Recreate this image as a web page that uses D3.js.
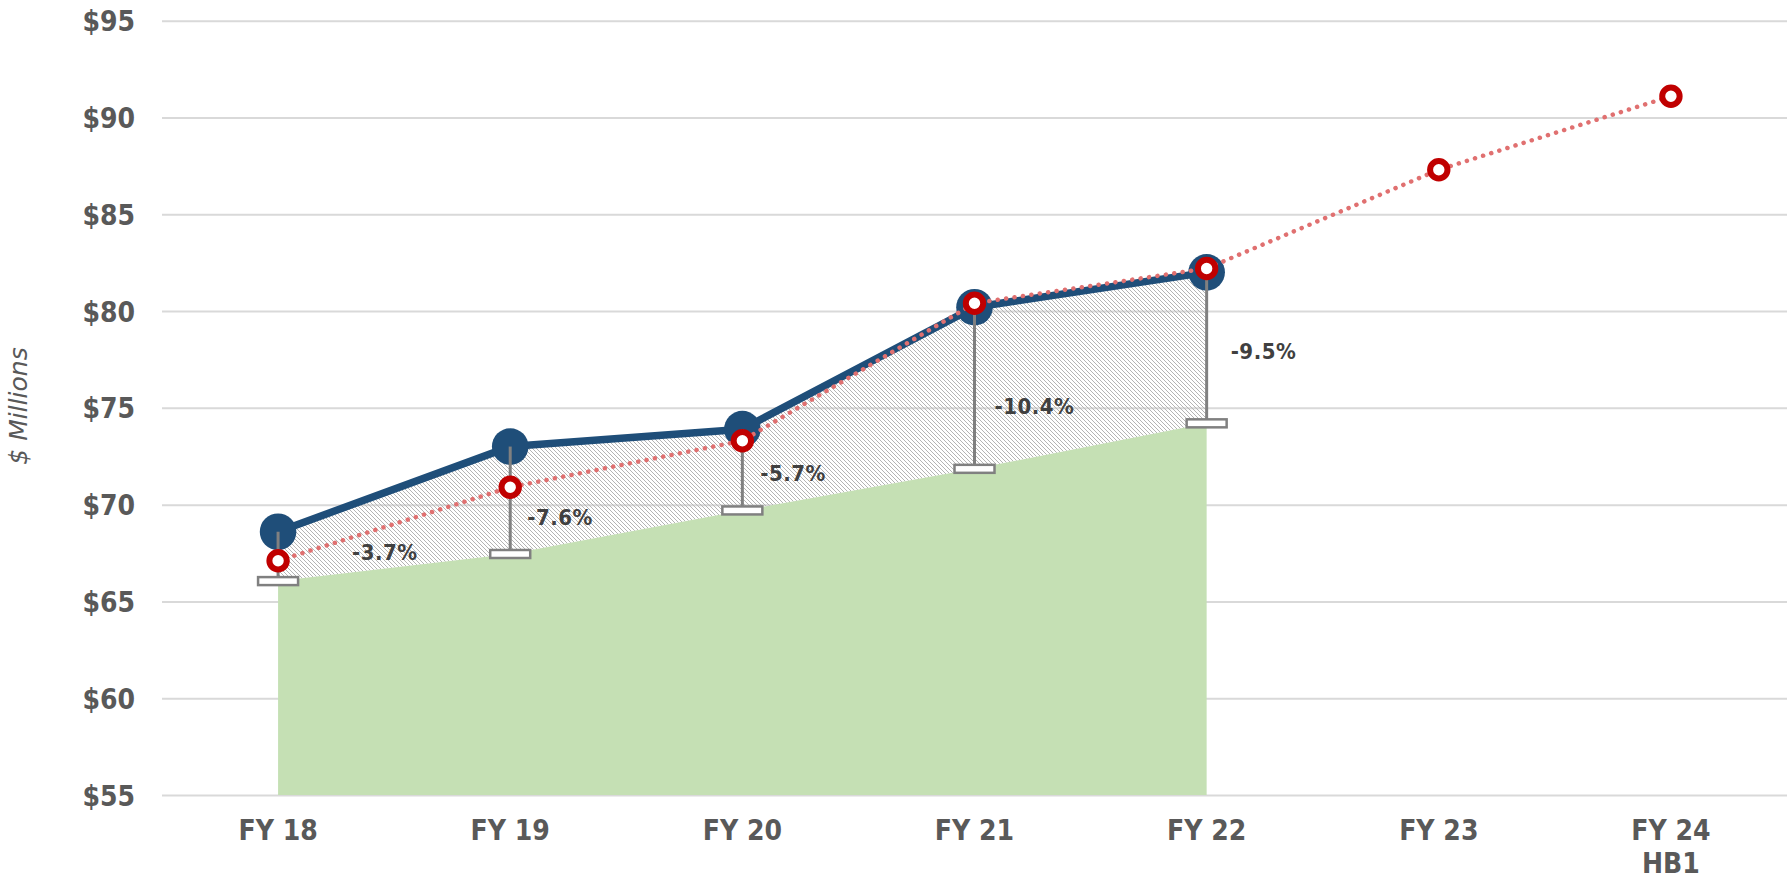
<!DOCTYPE html>
<html>
<head>
<meta charset="utf-8">
<script src="https://cdn.jsdelivr.net/npm/d3@7/dist/d3.min.js"></script>
<style>
  body { margin: 0; background: #fff; }
  svg { display: block; }
</style>
</head>
<body>
<div id="chart"></div>
<script>
// categories and values
const categories = ["FY 18", "FY 19", "FY 20", "FY 21", "FY 22", "FY 23", "FY 24\nHB1"];
const actual = [68.6, 73.0, 73.9, 80.2, 82.0];            // blue line, FY18-FY22
const projected = [67.1, 70.9, 73.3, 80.4, 82.2, 87.3, 91.1]; // red dotted
const lower = [66.05, 67.45, 69.7, 71.85, 74.2];          // green area top
const gapPct = ["-3.7%", "-7.6%", "-5.7%", "-10.4%", "-9.5%"];
const yTicks = [55, 60, 65, 70, 75, 80, 85, 90, 95];

const W = 1787, H = 877;
const plotLeft = 162, plotRight = 1787, plotTop = 20.7, plotBottom = 795;

const svg = d3.select("#chart").append("svg")
    .attr("width", W)
    .attr("height", H);

const x = d3.scaleBand().domain(categories).range([plotLeft, plotRight]).padding(0);
const cx = i => x(categories[i]) + x.bandwidth() / 2;
const y = d3.scaleLinear().domain([55, 95]).range([plotBottom, plotTop]);

// hatch pattern for the gap area
const defs = svg.append("defs");
const pat = defs.append("pattern")
    .attr("id", "hatch")
    .attr("patternUnits", "userSpaceOnUse")
    .attr("width", 4)
    .attr("height", 4);
pat.append("path")
    .attr("d", "M-1,-1 L5,5 M-1,3 L1,5 M3,-1 L5,1")
    .attr("stroke", "#b4b4b4")
    .attr("stroke-width", 1);

// y axis + gridlines
const yAxis = svg.append("g")
    .attr("transform", "translate(" + plotLeft + ",0)")
    .call(d3.axisLeft(y).tickValues(yTicks).tickFormat(d => "$" + d)
        .tickSize(-(plotRight - plotLeft)).tickPadding(27));
yAxis.select(".domain").remove();
yAxis.selectAll("line").attr("stroke", "#d9d9d9").attr("stroke-width", 2);
yAxis.selectAll("text")
    .attr("fill", "#595959")
    .style("font-family", "'DejaVu Sans Condensed', 'DejaVu Sans', sans-serif")
    .style("font-weight", "bold")
    .style("font-size", "28px")
    .attr("dy", "0.36em");

// x axis labels
const xAxis = svg.append("g")
    .attr("transform", "translate(0," + plotBottom + ")")
    .call(d3.axisBottom(x).tickSize(0).tickPadding(0).tickFormat(""));
xAxis.select(".domain").remove();
xAxis.selectAll(".tick").each(function(d) {
    const t = d3.select(this).append("text")
        .attr("fill", "#595959")
        .attr("text-anchor", "middle")
        .style("font-family", "'DejaVu Sans Condensed', 'DejaVu Sans', sans-serif")
        .style("font-weight", "bold")
        .style("font-size", "28px");
    d.split("\n").forEach((line, i) => {
        t.append("tspan").attr("x", 0).attr("y", 45 + i * 33).text(line);
    });
});

// y axis title
svg.append("text")
    .attr("transform", "translate(27,406) rotate(-90)")
    .attr("text-anchor", "middle")
    .attr("fill", "#595959")
    .style("font-family", "'DejaVu Sans', sans-serif")
    .style("font-style", "italic")
    .style("font-size", "25px")
    .text("$ Millions");

const idx = d3.range(actual.length);

// green area
svg.append("path")
    .datum(idx)
    .attr("fill", "#c5e0b4")
    .attr("d", d3.area().x(i => cx(i)).y0(y(55)).y1(i => y(lower[i])));

// hatched gap area
svg.append("path")
    .datum(idx)
    .attr("fill", "url(#hatch)")
    .attr("d", d3.area().x(i => cx(i)).y0(i => y(lower[i])).y1(i => y(actual[i])));

// blue line + markers
svg.append("path")
    .datum(idx)
    .attr("fill", "none")
    .attr("stroke", "#1f4e79")
    .attr("stroke-width", 7.5)
    .attr("stroke-linejoin", "round")
    .attr("d", d3.line().x(i => cx(i)).y(i => y(actual[i])));

svg.selectAll(".dot")
    .data(idx)
    .enter().append("circle")
    .attr("class", "dot")
    .attr("cx", i => cx(i))
    .attr("cy", i => y(actual[i]))
    .attr("r", 18.3)
    .attr("fill", "#1f4e79");

// error bars down to the green area
svg.selectAll(".err")
    .data(idx)
    .enter().append("line")
    .attr("class", "err")
    .attr("x1", i => cx(i))
    .attr("x2", i => cx(i))
    .attr("y1", i => y(actual[i]))
    .attr("y2", i => y(lower[i]))
    .attr("stroke", "#808080")
    .attr("stroke-width", 3);

svg.selectAll(".cap")
    .data(idx)
    .enter().append("rect")
    .attr("class", "cap")
    .attr("x", i => cx(i) - 20)
    .attr("y", i => y(lower[i]) - 4)
    .attr("width", 40)
    .attr("height", 8)
    .attr("fill", "#fff")
    .attr("stroke", "#808080")
    .attr("stroke-width", 2.5);

// red dotted projection
const pIdx = d3.range(projected.length);
svg.append("path")
    .datum(pIdx)
    .attr("fill", "none")
    .attr("stroke", "#e07070")
    .attr("stroke-width", 4.5)
    .attr("stroke-linecap", "round")
    .attr("stroke-dasharray", "0.1 8.4")
    .attr("d", d3.line().x(i => cx(i)).y(i => y(projected[i])));

svg.selectAll(".pdot")
    .data(pIdx)
    .enter().append("circle")
    .attr("class", "pdot")
    .attr("cx", i => cx(i))
    .attr("cy", i => y(projected[i]))
    .attr("r", 8.7)
    .attr("fill", "#fff")
    .attr("stroke", "#c00000")
    .attr("stroke-width", 6);

// gap labels: sit right of the error bar, midway down the gap
const labelShift = [[74, -4], [17, 17], [18, 3], [20, 18], [24, 3]];
svg.selectAll(".gap")
    .data(idx)
    .enter().append("text")
    .attr("class", "gap")
    .attr("x", i => cx(i) + labelShift[i][0])
    .attr("y", i => (y(actual[i]) + y(lower[i])) / 2 + labelShift[i][1])
    .attr("dy", "0.36em")
    .attr("fill", "#404040")
    .style("font-family", "'DejaVu Sans Condensed', 'DejaVu Sans', sans-serif")
    .style("font-weight", "bold")
    .style("font-size", "22px")
    .style("letter-spacing", "0.5px")
    .text(i => gapPct[i]);
</script>
</body>
</html>
